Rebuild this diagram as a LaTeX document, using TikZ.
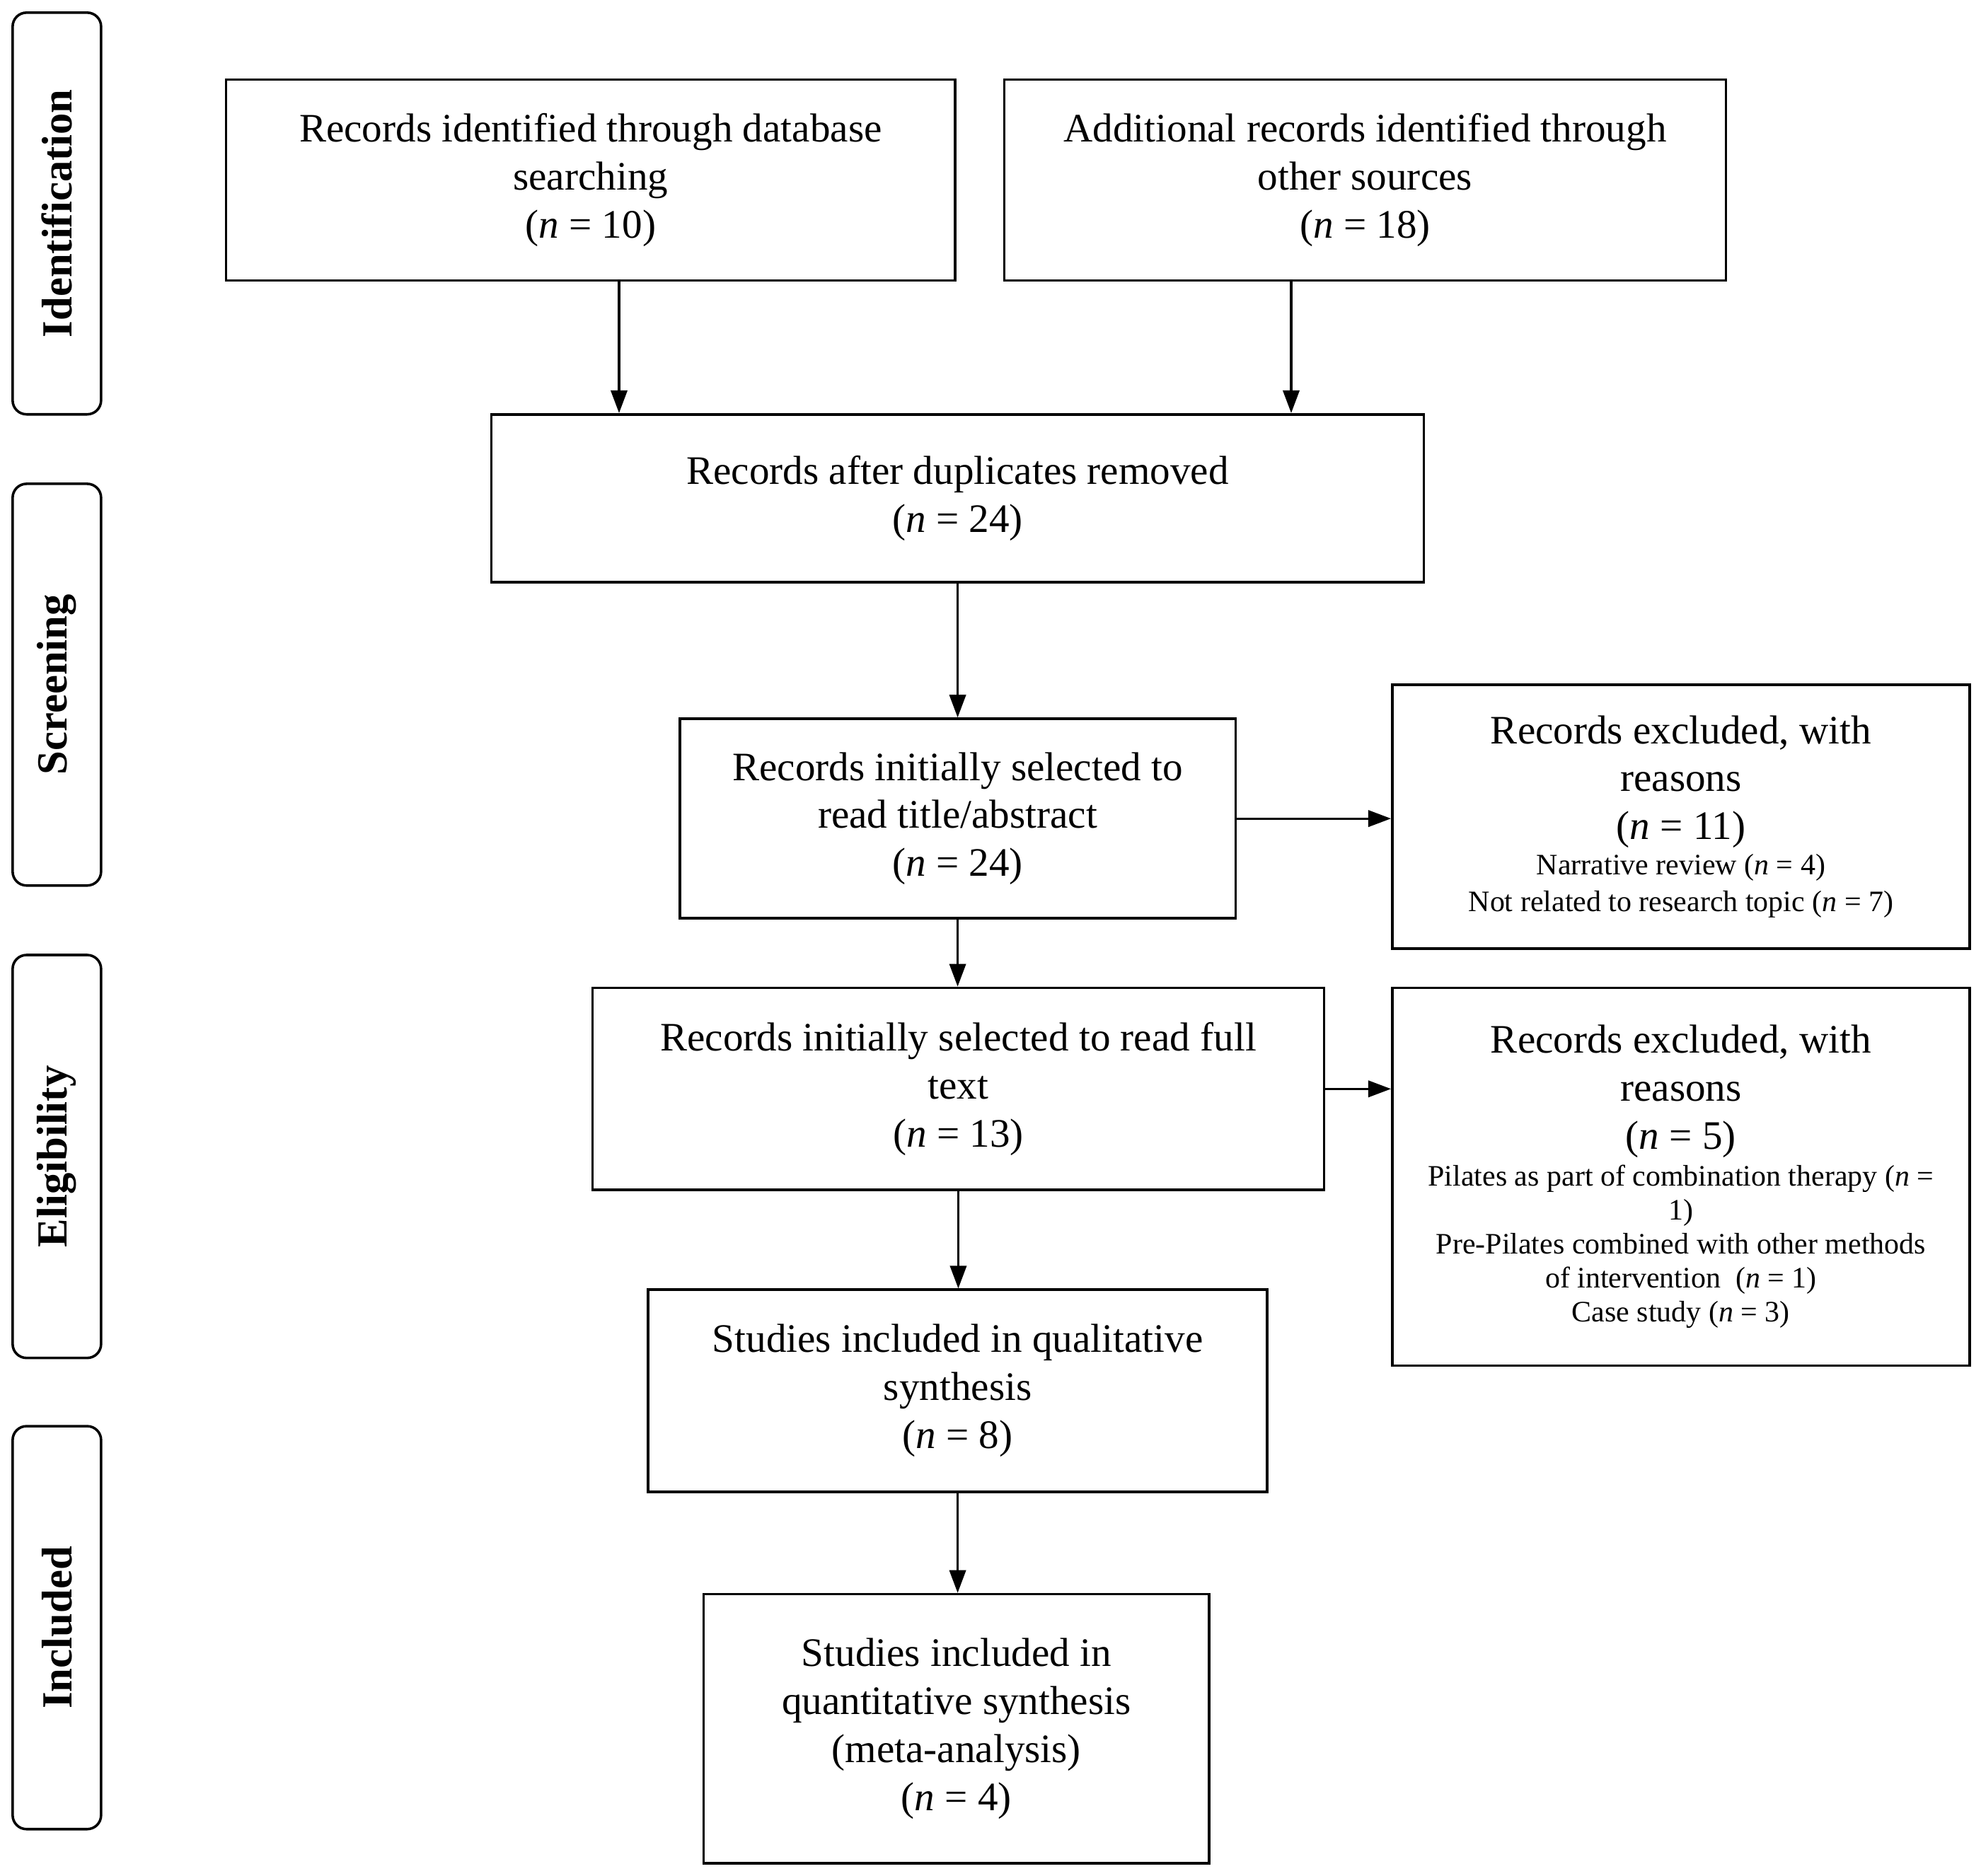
\documentclass[tikz,border=0pt]{standalone}
\usepackage{fontspec}
\setmainfont{Liberation Serif}
\usetikzlibrary{arrows.meta}
\newcommand{\bigtxt}{\fontsize{32}{38}\selectfont}
\newcommand{\smalltxt}{\fontsize{23.5}{27}\selectfont}
\newcommand{\sidetxt}{\fontsize{34}{40}\selectfont\bfseries}
\newcommand{\nvar}{\textit{n}}
\tikzset{
  box/.style={draw, line width=2pt, inner sep=0pt, align=center, font=\bigtxt},
  sidebox/.style={draw, line width=2pt, rounded corners=11pt, inner sep=0pt,
    minimum width=70pt, font=\sidetxt},
  arr/.style={line width=1.8pt, -{Triangle[length=18pt,width=13pt]}}
}
\begin{document}
\begin{tikzpicture}[x=1pt,y=-1pt]
\useasboundingbox (0,0) rectangle (1568,1485);
% phase labels
\node[sidebox, minimum height=318pt] (s1) at (45,169) {};
\node[rotate=90, font=\sidetxt] (t1) at (s1.center) {Identification};
\node[sidebox, minimum height=318pt] (s2) at (45,542) {};
\node[rotate=90, font=\sidetxt] (t2) at (s2.center) {Screening};
\node[sidebox, minimum height=319pt] (s3) at (45,915.5) {};
\node[rotate=90, font=\sidetxt] (t3) at (s3.center) {Eligibility};
\node[sidebox, minimum height=319pt] (s4) at (45,1288.5) {};
\node[rotate=90, font=\sidetxt] (t4) at (s4.center) {Included};
% boxes
\node[box, minimum width=577pt, minimum height=159pt] (b1) at (467.5,142.5)
  {Records identified through database\\searching\\(\nvar{} = 10)};
\node[box, minimum width=571pt, minimum height=159pt] (b2) at (1080.5,142.5)
  {Additional records identified through\\other sources\\(\nvar{} = 18)};
\node[box, minimum width=738pt, minimum height=133pt] (b3) at (758,394.5)
  {Records after duplicates removed\\(\nvar{} = 24)};
\node[box, minimum width=440pt, minimum height=158pt] (b4) at (758,648)
  {Records initially selected to\\read title/abstract\\(\nvar{} = 24)};
\node[box, minimum width=457pt, minimum height=209pt] (b5) at (1330.5,646.5)
  {Records excluded, with\\reasons\\(\nvar{} = 11)\\[-10pt]
   \smalltxt Narrative review (\nvar{} = 4)\\[-9pt]
   \smalltxt Not related to research topic (\nvar{} = 7)};
\node[box, minimum width=579pt, minimum height=160pt] (b6) at (758.5,862)
  {Records initially selected to read full\\text\\(\nvar{} = 13)};
\node[box, minimum width=457pt, minimum height=299pt] (b7) at (1330.5,931.5)
  {Records excluded, with\\reasons\\(\nvar{} = 5)\\[-9pt]
   \smalltxt Pilates as part of combination therapy (\nvar{} =\\[-11pt]
   \smalltxt 1)\\[-11pt]
   \smalltxt Pre-Pilates combined with other methods\\[-11pt]
   \smalltxt of intervention\ \ (\nvar{} = 1)\\[-11pt]
   \smalltxt Case study (\nvar{} = 3)};
\node[box, minimum width=490pt, minimum height=160pt] (b8) at (758,1101)
  {Studies included in qualitative\\synthesis\\(\nvar{} = 8)};
\node[box, minimum width=400pt, minimum height=213pt] (b9) at (757,1368.5)
  {Studies included in\\quantitative synthesis\\(meta-analysis)\\(\nvar{} = 4)};
% connectors
\draw[arr] ([xshift=22.5pt]b1.south) -- ([xshift=22.5pt]b1.south |- b3.north);
\draw[arr] ([xshift=-58.5pt]b2.south) -- ([xshift=-58.5pt]b2.south |- b3.north);
\draw[arr] (b3.south) -- (b3.south |- b4.north);
\draw[arr] (b4.east) -- (b4.east -| b5.west);
\draw[arr] (b4.south) -- (b4.south |- b6.north);
\draw[arr] (b6.east) -- (b6.east -| b7.west);
\draw[arr] (b6.south) -- (b6.south |- b8.north);
\draw[arr] (b8.south) -- (b8.south |- b9.north);
\end{tikzpicture}
\end{document}
